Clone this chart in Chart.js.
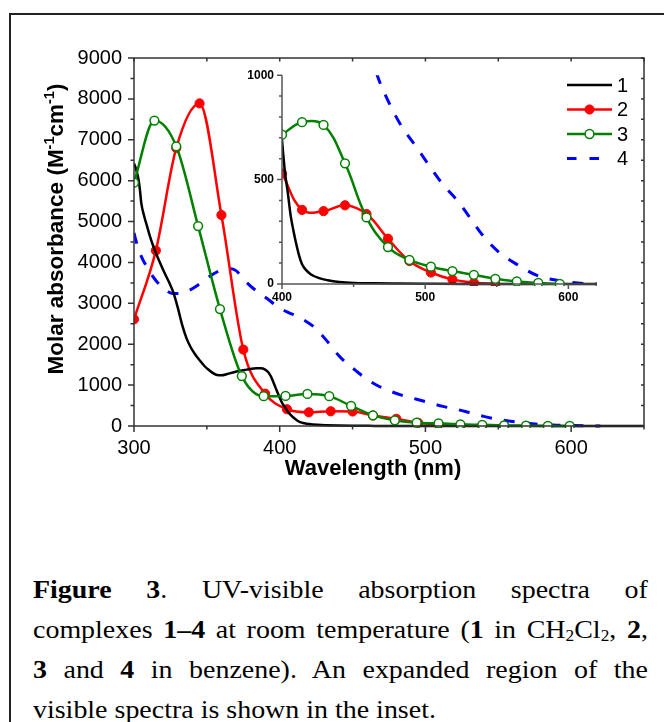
<!DOCTYPE html>
<html>
<head>
<meta charset="utf-8">
<script src="https://cdn.jsdelivr.net/npm/chart.js@4.4.1/dist/chart.umd.min.js"></script>
<style>
  html, body { margin: 0; padding: 0; background: #fff; }
  #fig { position: relative; width: 664px; height: 722px; overflow: hidden; }
  #frame { position: absolute; left: 9px; top: 13px; width: 720px; height: 800px; border: 2px solid #222; }
  #main { position: absolute; left: 0; top: 0; }
  #inset { position: absolute; left: 230px; top: 60px; }
  #caption {
    position: absolute; left: 33px; top: 570px; width: 572px;
    transform: scaleX(1.075); transform-origin: 0 0;
    font-family: "Liberation Serif", "Times New Roman", serif;
    font-size: 26px; line-height: 40px; color: #000;
  }
  #caption div { text-align: justify; text-align-last: justify; }
  #caption div.last { text-align-last: left; }
  #caption sub { font-size: 0.62em; line-height: 0; vertical-align: -0.18em; }
</style>
</head>
<body>
<div id="fig">
  <div id="frame"></div>
  <canvas id="main" width="664" height="500"></canvas>
  <canvas id="inset" width="390" height="250"></canvas>
  <div id="caption">
    <div><b>Figure 3</b>. UV-visible absorption spectra of</div>
    <div>complexes <b>1–4</b> at room temperature (<b>1</b> in CH<sub>2</sub>Cl<sub>2</sub>, <b>2</b>,</div>
    <div><b>3</b> and <b>4</b> in benzene). An expanded region of the</div>
    <div class="last">visible spectra is shown in the inset.</div>
  </div>
</div>
<script>
// complex 1 (CH2Cl2), full curve, no symbols
const wl1 = [300, 301, 302, 303, 304, 305, 307, 309, 311, 313, 315, 318, 321, 324, 327, 330, 333, 336, 339, 342, 345, 348, 351, 354, 357, 360, 364, 368, 372, 376, 380, 384, 387, 390, 392, 394, 396, 398, 400, 402, 404, 406, 408, 410, 412, 414, 417, 420, 426, 432, 440, 450, 465, 480, 500, 530, 560, 600, 650];
const abs1 = [6420, 6330, 6200, 6050, 5800, 5450, 5130, 4880, 4630, 4420, 4230, 3980, 3740, 3520, 3270, 2900, 2480, 2150, 1920, 1750, 1610, 1480, 1380, 1300, 1245, 1240, 1270, 1310, 1345, 1370, 1395, 1410, 1410, 1380, 1320, 1210, 1040, 860, 690, 540, 440, 330, 255, 190, 135, 95, 65, 47, 28, 18, 10, 5, 3, 2, 1, 0, 0, 0, 0];

// complex 2, points at the symbols of the main plot
const wl2 = [300, 315, 329, 345, 360, 375, 390, 405, 420, 435, 450, 464, 480, 495, 509, 524, 539, 554];
const abs2 = [2610, 4290, 6800, 7890, 5160, 1870, 790, 410, 335, 360, 355, 257, 176, 78, 40, 20, 10, 3];
// complex 2, symbols of the inset
const wl2Inset = [400, 414, 429, 444, 459, 474, 489, 504, 519, 534, 549];
const abs2Inset = [530, 355, 349, 377, 335, 217, 110, 55, 22, 6, 1];

// complex 3
const wl3 = [300, 314, 329, 344, 359, 374, 389, 404, 419, 434, 449, 464, 479, 494, 509, 524, 539, 554, 569, 584, 599];
const abs3 = [5950, 7470, 6840, 4890, 2860, 1220, 730, 735, 785, 730, 490, 260, 140, 80, 65, 40, 28, 14, 8, 2, 0];
const wl3Inset = [400, 414, 429, 444, 459, 474, 489, 504, 519, 534, 549, 564, 579, 594];
const abs3Inset = [715, 775, 762, 578, 319, 177, 115, 83, 62, 44, 25, 12, 5, 0];

// complex 4, dashed, no symbols
const wl4 = [300, 302, 305, 310, 315, 320, 327, 333, 338, 344, 350, 355, 360, 365, 370, 375, 380, 386, 392, 398, 405, 412, 419, 425, 430, 435, 440, 446, 452, 458, 467, 476, 484, 494, 503, 512, 523, 530, 540, 551, 565, 579, 590, 600, 610, 620];
const abs4 = [4720, 4450, 4150, 3820, 3560, 3380, 3240, 3250, 3320, 3450, 3610, 3730, 3820, 3850, 3800, 3600, 3420, 3250, 3100, 2930, 2790, 2680, 2540, 2380, 2180, 1970, 1740, 1530, 1360, 1190, 990, 850, 750, 655, 565, 480, 395, 330, 235, 155, 90, 38, 20, 10, 3, 0];

const seriesLabels = ['1', '2', '3', '4'];
const xRange = [300, 650];
const yRange = [0, 9000];
const xRangeInset = [400, 620];
const yRangeInset = [0, 1000];

const sansFont = "'Liberation Sans', Arial, sans-serif";
const axisColor = '#333';

function toXY(xs, ys) {
    return xs.map((x, i) => ({ x: x, y: ys[i] }));
}

function plainTick(v) {
    return String(v);
}

function makeDatasets(d2, d3, smooth) {
    return [
        {
            label: seriesLabels[0], data: toXY(wl1, abs1), order: 2,
            borderColor: '#000000', borderWidth: 2.5, pointRadius: 0,
            cubicInterpolationMode: 'monotone'
        },
        {
            label: seriesLabels[1], data: d2, order: 3,
            borderColor: '#ff0000', borderWidth: 2.5,
            pointRadius: 4.6, pointBackgroundColor: '#ff0000', pointBorderColor: '#ff0000', pointBorderWidth: 1,
            ...smooth
        },
        {
            label: seriesLabels[2], data: d3, order: 1,
            borderColor: '#008000', borderWidth: 2.5,
            pointRadius: 4.4, pointBackgroundColor: '#ffffff', pointBorderColor: '#008000', pointBorderWidth: 1.5,
            ...smooth
        },
        {
            label: seriesLabels[3], data: toXY(wl4, abs4), order: 4,
            borderColor: '#0000ff', borderWidth: 3, borderDash: [11, 12], borderCapStyle: 'butt',
            pointRadius: 0, cubicInterpolationMode: 'monotone'
        }
    ];
}

// axes box, ticks, titles and legend of the main plot
const mainFrame = {
    id: 'mainFrame',
    afterDraw(chart) {
        const { ctx, chartArea: a, scales: { x, y } } = chart;
        ctx.save();
        ctx.strokeStyle = axisColor;
        ctx.lineWidth = 1.5;
        ctx.strokeRect(a.left, a.top, a.right - a.left, a.bottom - a.top);
        ctx.beginPath();
        for (let v = xRange[0]; v <= xRange[1]; v += 50) {
            const px = x.getPixelForValue(v);
            ctx.moveTo(px, a.bottom);
            ctx.lineTo(px, a.bottom + (v % 100 === 0 ? 6 : 3.5));
            ctx.moveTo(px, a.top);
            ctx.lineTo(px, a.top + 3.5);
        }
        for (let v = yRange[0]; v <= yRange[1]; v += 500) {
            const py = y.getPixelForValue(v);
            ctx.moveTo(a.left, py);
            ctx.lineTo(a.left - (v % 1000 === 0 ? 6 : 3.5), py);
            ctx.moveTo(a.right, py);
            ctx.lineTo(a.right - 3, py);
        }
        ctx.stroke();

        // x title
        ctx.fillStyle = '#000';
        ctx.font = "bold 22px " + sansFont;
        ctx.textAlign = 'center';
        ctx.textBaseline = 'middle';
        ctx.fillText('Wavelength (nm)', 373, 469);

        // y title with superscripts
        const parts = [
            { t: 'Molar absorbance (M', sup: false },
            { t: '-1', sup: true },
            { t: 'cm', sup: false },
            { t: '-1', sup: true },
            { t: ')', sup: false }
        ];
        const bigFont = "bold 22.5px " + sansFont;
        const supFont = "bold 14.5px " + sansFont;
        let total = 0;
        parts.forEach(p => {
            ctx.font = p.sup ? supFont : bigFont;
            p.w = ctx.measureText(p.t).width;
            total += p.w;
        });
        ctx.translate(55, 229);
        ctx.rotate(-Math.PI / 2);
        ctx.textAlign = 'left';
        ctx.textBaseline = 'alphabetic';
        let cx = -total / 2;
        parts.forEach(p => {
            ctx.font = p.sup ? supFont : bigFont;
            ctx.fillText(p.t, cx, p.sup ? -1 : 8);
            cx += p.w;
        });
        ctx.restore();

        // legend
        chart.data.datasets.forEach((ds, i) => {
            const ly = 85 + i * 24.5;
            ctx.save();
            ctx.strokeStyle = ds.borderColor;
            ctx.lineWidth = ds.borderWidth;
            ctx.setLineDash(ds.borderDash ? [9.5, 13] : []);
            ctx.beginPath();
            ctx.moveTo(567, ly);
            ctx.lineTo(612, ly);
            ctx.stroke();
            ctx.setLineDash([]);
            if (ds.pointRadius > 0) {
                ctx.beginPath();
                ctx.arc(589.5, ly, ds.pointRadius, 0, Math.PI * 2);
                ctx.fillStyle = ds.pointBackgroundColor;
                ctx.fill();
                ctx.lineWidth = ds.pointBorderWidth;
                ctx.strokeStyle = ds.pointBorderColor;
                ctx.stroke();
            }
            ctx.fillStyle = '#000';
            ctx.font = "20px " + sansFont;
            ctx.textAlign = 'left';
            ctx.textBaseline = 'middle';
            ctx.fillText(ds.label, 617, ly + 1);
            ctx.restore();
        });
    }
};

const insetFrame = {
    id: 'insetFrame',
    afterDraw(chart) {
        const { ctx, chartArea: a, scales: { x, y } } = chart;
        ctx.save();
        ctx.strokeStyle = '#555';
        ctx.lineWidth = 1.5;
        ctx.beginPath();
        ctx.moveTo(a.left, a.top);
        ctx.lineTo(a.left, a.bottom);
        ctx.lineTo(a.right, a.bottom);
        for (let v = xRangeInset[0]; v <= xRangeInset[1]; v += 50) {
            const px = x.getPixelForValue(v);
            ctx.moveTo(px, a.bottom);
            ctx.lineTo(px, a.bottom + (v % 100 === 0 ? 5 : 3));
        }
        for (let v = yRangeInset[0]; v <= yRangeInset[1]; v += 100) {
            const py = y.getPixelForValue(v);
            ctx.moveTo(a.left, py);
            ctx.lineTo(a.left - (v % 500 === 0 ? 5 : 3), py);
        }
        ctx.stroke();
        ctx.restore();
    }
};

const mainChart = new Chart(document.getElementById('main'), {
    type: 'line',
    data: {
        datasets: makeDatasets(toXY(wl2, abs2), toXY(wl3, abs3), { cubicInterpolationMode: 'monotone' })
            .map(ds => ({ ...ds, clip: { left: 0, top: 0, right: 0, bottom: 2 } }))
    },
    options: {
        responsive: false,
        animation: false,
        devicePixelRatio: 1,
        events: [],
        layout: { padding: { left: 0, right: 20, top: 58, bottom: 0 } },
        plugins: { legend: { display: false }, tooltip: { enabled: false } },
        scales: {
            x: {
                type: 'linear', position: 'bottom', min: xRange[0], max: xRange[1],
                grid: { display: false, drawTicks: false }, border: { display: false },
                ticks: {
                    stepSize: 100, includeBounds: false, autoSkip: false, maxRotation: 0,
                    padding: 10, color: '#000', font: { family: sansFont, size: 20 },
                    callback: plainTick
                },
                afterFit: s => { s.height = 74; }
            },
            y: {
                type: 'linear', position: 'left', min: yRange[0], max: yRange[1],
                grid: { display: false, drawTicks: false }, border: { display: false },
                ticks: {
                    stepSize: 1000, autoSkip: false, padding: 12, color: '#000',
                    font: { family: sansFont, size: 20 },
                    callback: plainTick
                },
                afterFit: s => { s.width = 134; }
            }
        }
    },
    plugins: [mainFrame]
});

const insetChart = new Chart(document.getElementById('inset'), {
    type: 'line',
    data: {
        datasets: makeDatasets(toXY(wl2Inset, abs2Inset), toXY(wl3Inset, abs3Inset), { tension: 0.4 })
            .map(ds => ({ ...ds, clip: { left: 0, top: 0, right: 0, bottom: 2 } }))
    },
    options: {
        responsive: false,
        animation: false,
        devicePixelRatio: 1,
        events: [],
        layout: { padding: { left: 0, right: 23, top: 12, bottom: 0 } },
        plugins: { legend: { display: false }, tooltip: { enabled: false } },
        scales: {
            x: {
                type: 'linear', position: 'bottom', min: xRangeInset[0], max: xRangeInset[1],
                grid: { display: false, drawTicks: false }, border: { display: false },
                ticks: {
                    stepSize: 100, includeBounds: false, autoSkip: false, maxRotation: 0,
                    padding: 6, color: '#000', font: { family: sansFont, size: 12, weight: 'bold' },
                    callback: plainTick
                },
                afterFit: s => { s.height = 26; }
            },
            y: {
                type: 'linear', position: 'left', min: yRangeInset[0], max: yRangeInset[1],
                grid: { display: false, drawTicks: false }, border: { display: false },
                ticks: {
                    stepSize: 500, autoSkip: false, padding: 8, color: '#000',
                    font: { family: sansFont, size: 12, weight: 'bold' },
                    callback: plainTick
                },
                afterFit: s => { s.width = 52; }
            }
        }
    },
    plugins: [insetFrame]
});
</script>
</body>
</html>
